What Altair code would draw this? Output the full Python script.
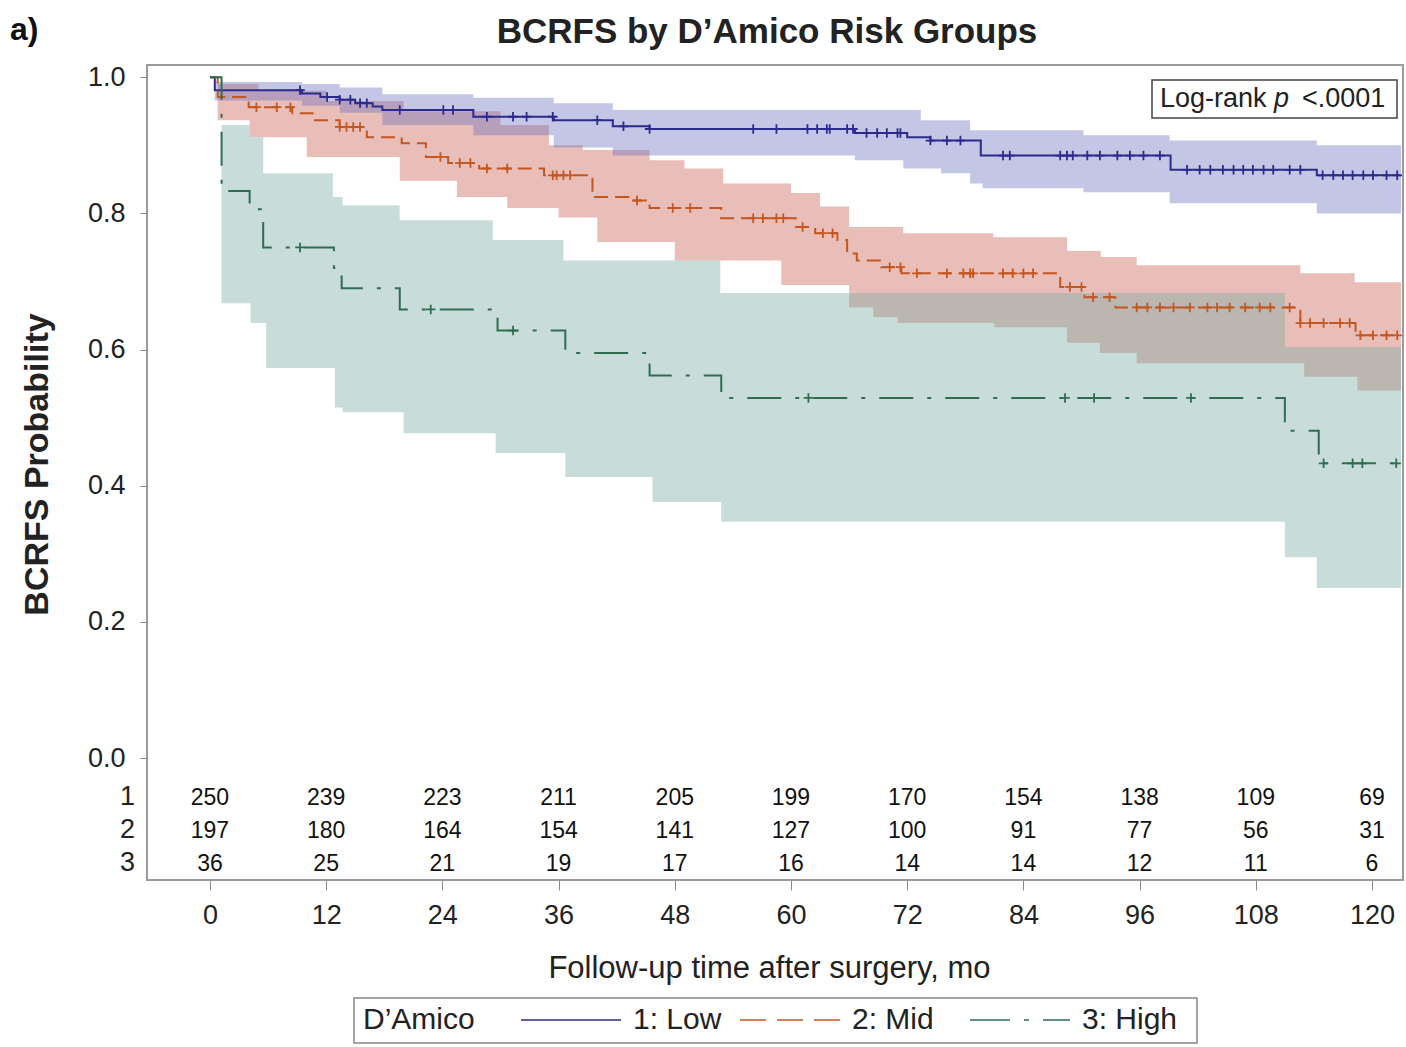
import altair as alt
import pandas as pd

GROUPS = ["1: Low", "2: Mid", "3: High"]
LINE_COLORS = ["#2b2b8c", "#c4561f", "#2e6d50"]
BAND_COLORS = ["#6b70c0", "#c85d4e", "#76aaa3"]
DASHES = [[1, 0], [14, 7], [34, 14, 4, 14]]
LEGEND_DASHES = [[1, 0], [26, 11], [40, 14, 5, 14]]
END_T = 123.0

# Kaplan-Meier curves (month, survival)
LOW_T = [0, 0.5, 9.5, 11.4, 13.4, 15.0, 16.8, 17.8, 27.2, 35.5, 41.6, 45.4, 66.6, 72.0, 74.4, 79.6, 99.2, 114.3]
LOW_S = [1.0, 0.981, 0.976, 0.971, 0.967, 0.962, 0.957, 0.952, 0.942, 0.937, 0.928, 0.924, 0.918, 0.912, 0.907, 0.885, 0.864, 0.856]
MID_T = [0, 0.8, 4.0, 8.5, 10.6, 13.4, 16.2, 19.8, 22.3, 24.6, 27.8, 34.5, 39.5, 43.2, 45.4, 52.8, 60.5, 62.5, 64.8,
         65.8, 66.8, 69.3, 71.4, 87.8, 90.3, 93.5, 112.6, 118.3]
MID_S = [1.0, 0.971, 0.956, 0.947, 0.937, 0.927, 0.912, 0.903, 0.883, 0.874, 0.866, 0.856, 0.824, 0.819, 0.808, 0.793,
         0.780, 0.771, 0.761, 0.741, 0.731, 0.721, 0.712, 0.692, 0.677, 0.662, 0.639, 0.621]
HIGH_T = [0, 1.2, 4.1, 5.5, 12.8, 13.6, 19.6, 29.7, 36.7, 45.4, 52.8, 111.0, 114.5]
HIGH_S = [1.0, 0.833, 0.806, 0.750, 0.720, 0.690, 0.659, 0.628, 0.595, 0.562, 0.529, 0.481, 0.433]

# confidence bands: step functions for upper and lower limits
LOW_HI_T = [0, 0.5, 9.5, 13.4, 17.8, 27.2, 35.5, 41.6, 73.4, 78.5, 90.2, 99.1, 114.3]
LOW_HI_V = [1.0, 0.993, 0.990, 0.985, 0.975, 0.970, 0.962, 0.952, 0.937, 0.922, 0.915, 0.907, 0.900]
LOW_LO_T = [0, 0.5, 9.5, 13.4, 17.8, 27.2, 35.5, 41.6, 66.6, 71.6, 75.5, 78.5, 79.8, 90.2, 99.1, 114.3]
LOW_LO_V = [1.0, 0.966, 0.958, 0.948, 0.930, 0.915, 0.897, 0.885, 0.878, 0.866, 0.859, 0.844, 0.837, 0.831, 0.815, 0.800]

MID_HI_T = [0, 0.8, 5, 12, 20, 30, 35, 38.5, 45.4, 49, 53, 60, 63, 66, 71.6, 80.9, 88.5, 92, 95.7, 112.6, 118.2]
MID_HI_V = [1.0, 0.990, 0.980, 0.965, 0.950, 0.930, 0.900, 0.893, 0.878, 0.866, 0.844, 0.830, 0.810, 0.780, 0.771,
            0.765, 0.745, 0.736, 0.724, 0.712, 0.699]
MID_LO_T = [0, 0.8, 4.1, 10, 19.6, 25.5, 30.7, 36, 40, 48, 59, 66, 68.5, 71, 81, 88.5, 91.9, 95.7, 113, 118.5]
MID_LO_V = [1.0, 0.937, 0.912, 0.883, 0.848, 0.824, 0.808, 0.794, 0.758, 0.731, 0.695, 0.662, 0.648, 0.639, 0.633,
            0.610, 0.595, 0.580, 0.560, 0.540]

HIGH_HI_T = [0, 1.2, 4.1, 5.5, 12.7, 13.7, 19.6, 29.2, 36.5, 52.7, 111.0]
HIGH_HI_V = [1.0, 0.930, 0.912, 0.859, 0.824, 0.812, 0.790, 0.761, 0.731, 0.683, 0.604]
HIGH_LO_T = [0, 1.2, 4.2, 5.8, 12.9, 13.7, 20, 29.5, 36.7, 45.7, 52.8, 111.0, 114.3]
HIGH_LO_V = [1.0, 0.668, 0.639, 0.573, 0.515, 0.508, 0.477, 0.448, 0.413, 0.376, 0.347, 0.295, 0.250]

# censoring times (months)
LOW_CENS = [9.3, 12.1, 13.4, 14.5, 15.5, 16.2, 19.6, 24.1, 25.1, 28.6, 31.3, 32.7, 35.4, 40.0, 42.7, 45.4, 56.1,
            58.5, 61.7, 62.7, 63.7, 64.0, 65.8, 66.4, 67.8, 68.9, 69.9, 71.0, 71.3, 74.4, 76.1, 77.5, 81.9, 82.6,
            87.8, 88.5, 89.1, 90.6, 91.9, 93.7, 95.0, 96.4, 98.1, 100.9, 102.2, 103.3, 104.6, 105.7, 106.7, 107.7,
            108.8, 109.8, 111.5, 112.6, 114.9, 116.0, 117.0, 118.0, 119.1, 120.1, 121.5, 122.6]
MID_CENS = [4.8, 6.9, 8.3, 13.4, 14.1, 14.8, 15.5, 23.8, 25.8, 26.9, 28.6, 30.7, 35.4, 35.8, 36.5, 37.2, 44.1, 47.8,
            49.6, 56.1, 57.1, 58.5, 59.2, 61.2, 63.3, 64.3, 70.2, 71.3, 73.0, 76.1, 77.8, 78.5, 78.8, 81.9, 82.9,
            84.0, 85.0, 88.8, 90.0, 91.2, 92.9, 95.7, 96.8, 98.1, 99.5, 101.2, 103.0, 104.0, 105.3, 106.9, 108.4,
            109.5, 111.5, 112.6, 113.6, 115.0, 116.7, 117.7, 118.8, 120.1, 121.5, 122.6]
HIGH_CENS = [9.3, 22.8, 31.3, 61.8, 88.3, 91.3, 101.3, 115.0, 118.0, 119.0, 122.5]

# numbers at risk
RISK_TIMES = [0, 12, 24, 36, 48, 60, 72, 84, 96, 108, 120]
RISK_LOW = [250, 239, 223, 211, 205, 199, 170, 154, 138, 109, 69]
RISK_MID = [197, 180, 164, 154, 141, 127, 100, 91, 77, 56, 31]
RISK_HIGH = [36, 25, 21, 19, 17, 16, 14, 14, 12, 11, 6]
ROW_NAMES = ["1", "2", "3"]

TITLE = "BCRFS by D\u2019Amico Risk Groups"
LEGEND_TITLE = "D\u2019Amico"


def step_at(ts, vs, t):
    v = vs[0]
    for ti, vi in zip(ts, vs):
        if ti <= t:
            v = vi
        else:
            break
    return v


curves = [(LOW_T, LOW_S, LOW_CENS), (MID_T, MID_S, MID_CENS), (HIGH_T, HIGH_S, HIGH_CENS)]
bands = [(LOW_HI_T, LOW_HI_V, LOW_LO_T, LOW_LO_V), (MID_HI_T, MID_HI_V, MID_LO_T, MID_LO_V),
         (HIGH_HI_T, HIGH_HI_V, HIGH_LO_T, HIGH_LO_V)]

curve_rows, cens_rows, band_rows = [], [], []
for g, (ts, ss, cs) in zip(GROUPS, curves):
    for t, s in zip(ts, ss):
        curve_rows.append({"group": g, "t": t, "s": s})
    curve_rows.append({"group": g, "t": END_T, "s": ss[-1]})
    for c in cs:
        cens_rows.append({"group": g, "t": c, "s": step_at(ts, ss, c)})
for g, (ht, hv, lt, lv) in zip(GROUPS, bands):
    knots = sorted(set(ht) | set(lt)) + [END_T]
    for t in knots:
        band_rows.append({"group": g, "t": t, "hi": step_at(ht, hv, t), "lo": step_at(lt, lv, t)})

curve_df = pd.DataFrame(curve_rows)
cens_df = pd.DataFrame(cens_rows)
band_df = pd.DataFrame(band_rows)

FONT = "Liberation Sans"
TXT = "#222"
XSCALE = alt.Scale(domain=[-6.5, 123.2], nice=False, zero=False)
YSCALE = alt.Scale(domain=[-0.179, 1.018], nice=False, zero=False)

x_enc = alt.X("t:Q", scale=XSCALE,
              axis=alt.Axis(values=RISK_TIMES, title="Follow-up time after surgery, mo", grid=False,
                            domain=False, tickSize=10, tickColor="#888", labelFontSize=27, labelFont=FONT,
                            labelColor=TXT, labelPadding=12, titleFont=FONT, titleFontSize=31,
                            titleFontWeight="normal", titleColor=TXT, titleX=622, titleY=88,
                            titleBaseline="middle", titleAlign="center"))
y_axis = alt.Axis(values=[0, 0.2, 0.4, 0.6, 0.8, 1.0], format=".1f", title="BCRFS Probability", grid=False,
                  domain=False, tickSize=7, tickColor="#888", labelFontSize=27, labelFont=FONT, labelColor=TXT,
                  labelPadding=15, titleFont=FONT, titleFontSize=34, titleFontWeight="bold", titleColor=TXT,
                  titleX=-110, titleY=399, titleAngle=270, titleBaseline="middle", titleAlign="center")

band_order = [1, 0, 2]
band_layers = []
for i in band_order:
    band_layers.append(
        alt.Chart(band_df[band_df.group == GROUPS[i]]).mark_area(
            interpolate="step-after", opacity=0.4, color=BAND_COLORS[i]
        ).encode(
            x=alt.X("t:Q", scale=XSCALE),
            y=alt.Y("lo:Q", scale=YSCALE, axis=y_axis),
            y2="hi:Q",
        )
    )

lines = alt.Chart(curve_df).mark_line(interpolate="step-after", strokeWidth=2).encode(
    x=x_enc,
    y=alt.Y("s:Q", scale=YSCALE, axis=y_axis),
    stroke=alt.Stroke("group:N", scale=alt.Scale(domain=GROUPS, range=LINE_COLORS), legend=None),
    strokeDash=alt.StrokeDash("group:N", scale=alt.Scale(domain=GROUPS, range=DASHES), legend=None),
)

cens = alt.Chart(cens_df).mark_point(shape="M-1,0L1,0M0,-1L0,1", filled=False, size=90, strokeWidth=1.8,
                                     opacity=1).encode(
    x=alt.X("t:Q", scale=XSCALE),
    y=alt.Y("s:Q", scale=YSCALE),
    color=alt.Color("group:N", scale=alt.Scale(domain=GROUPS, range=LINE_COLORS), legend=None),
)

ROW_Y = [-0.0573, -0.1057, -0.1542]
risk_layers = []
for rname, counts, ry in zip(ROW_NAMES, [RISK_LOW, RISK_MID, RISK_HIGH], ROW_Y):
    df = pd.DataFrame({"t": RISK_TIMES, "n": counts})
    risk_layers.append(
        alt.Chart(df).mark_text(font=FONT, fontSize=23, color="#111", baseline="middle", align="center",
                                dy=1).encode(
            x=alt.X("t:Q", scale=XSCALE), y=alt.datum(ry, scale=YSCALE), text="n:Q"
        )
    )
    risk_layers.append(
        alt.Chart(pd.DataFrame({"r": [rname]})).mark_text(font=FONT, fontSize=27, color=TXT,
                                                          baseline="middle", align="center").encode(
            x=alt.datum(-8.5, scale=XSCALE), y=alt.datum(ry, scale=YSCALE), text="r:N"
        )
    )

one = pd.DataFrame({"a": [0]})
box = alt.Chart(one).mark_rect(fill="white", stroke="#444", strokeWidth=1.5).encode(
    x=alt.value(1005), x2=alt.value(1250), y=alt.value(15), y2=alt.value(53))
lr1 = alt.Chart(one).mark_text(text="Log-rank", font=FONT, fontSize=27, align="left", baseline="middle",
                               color=TXT).encode(x=alt.value(1013), y=alt.value(34))
lr2 = alt.Chart(one).mark_text(text="p", font=FONT, fontSize=27, fontStyle="italic", align="left",
                               baseline="middle", color=TXT).encode(x=alt.value(1127), y=alt.value(34))
lr3 = alt.Chart(one).mark_text(text="<.0001", font=FONT, fontSize=27, align="left", baseline="middle",
                               color=TXT).encode(x=alt.value(1155), y=alt.value(34))
panel = alt.Chart(one).mark_text(text="a)", font=FONT, fontSize=32, fontWeight="bold", align="left",
                                 baseline="middle", color="#111").encode(x=alt.value(-137), y=alt.value(-35))
title = alt.Chart(one).mark_text(text=TITLE, font=FONT, fontSize=35, fontWeight="bold", align="center",
                                 baseline="middle", color=TXT).encode(x=alt.value(620), y=alt.value(-33))

# legend (drawn below the axis title)
LEG_Y = 955
leg_box = alt.Chart(one).mark_rect(fill="white", stroke="#888", strokeWidth=1.5).encode(
    x=alt.value(207), x2=alt.value(1050), y=alt.value(933), y2=alt.value(978))
leg_title = alt.Chart(one).mark_text(text=LEGEND_TITLE, font=FONT, fontSize=30, align="left", baseline="middle",
                                     color=TXT).encode(x=alt.value(216), y=alt.value(LEG_Y))
leg_layers = [leg_box, leg_title]
SYM_X = [374, 593, 823]
for g, col, dash, sx in zip(GROUPS, LINE_COLORS, LEGEND_DASHES, SYM_X):
    leg_layers.append(
        alt.Chart(one).mark_rule(color=col, strokeWidth=2, strokeDash=dash, opacity=0.75).encode(
            x=alt.value(sx), x2=alt.value(sx + 100), y=alt.value(LEG_Y))
    )
    leg_layers.append(
        alt.Chart(one).mark_text(text=g, font=FONT, fontSize=30, align="left", baseline="middle",
                                 color=TXT).encode(x=alt.value(sx + 112), y=alt.value(LEG_Y))
    )

chart = alt.layer(*band_layers, lines, cens, *risk_layers, box, lr1, lr2, lr3, panel, title,
                  *leg_layers).properties(
    width=1256, height=815,
    autosize=alt.AutoSizeParams(type="none"),
    padding={"left": 147, "top": 65, "right": 3, "bottom": 167},
).configure_view(
    stroke="#9a9a9a", strokeWidth=2
)

chart.save("out.html", embed_options={"renderer": "svg", "actions": False})
